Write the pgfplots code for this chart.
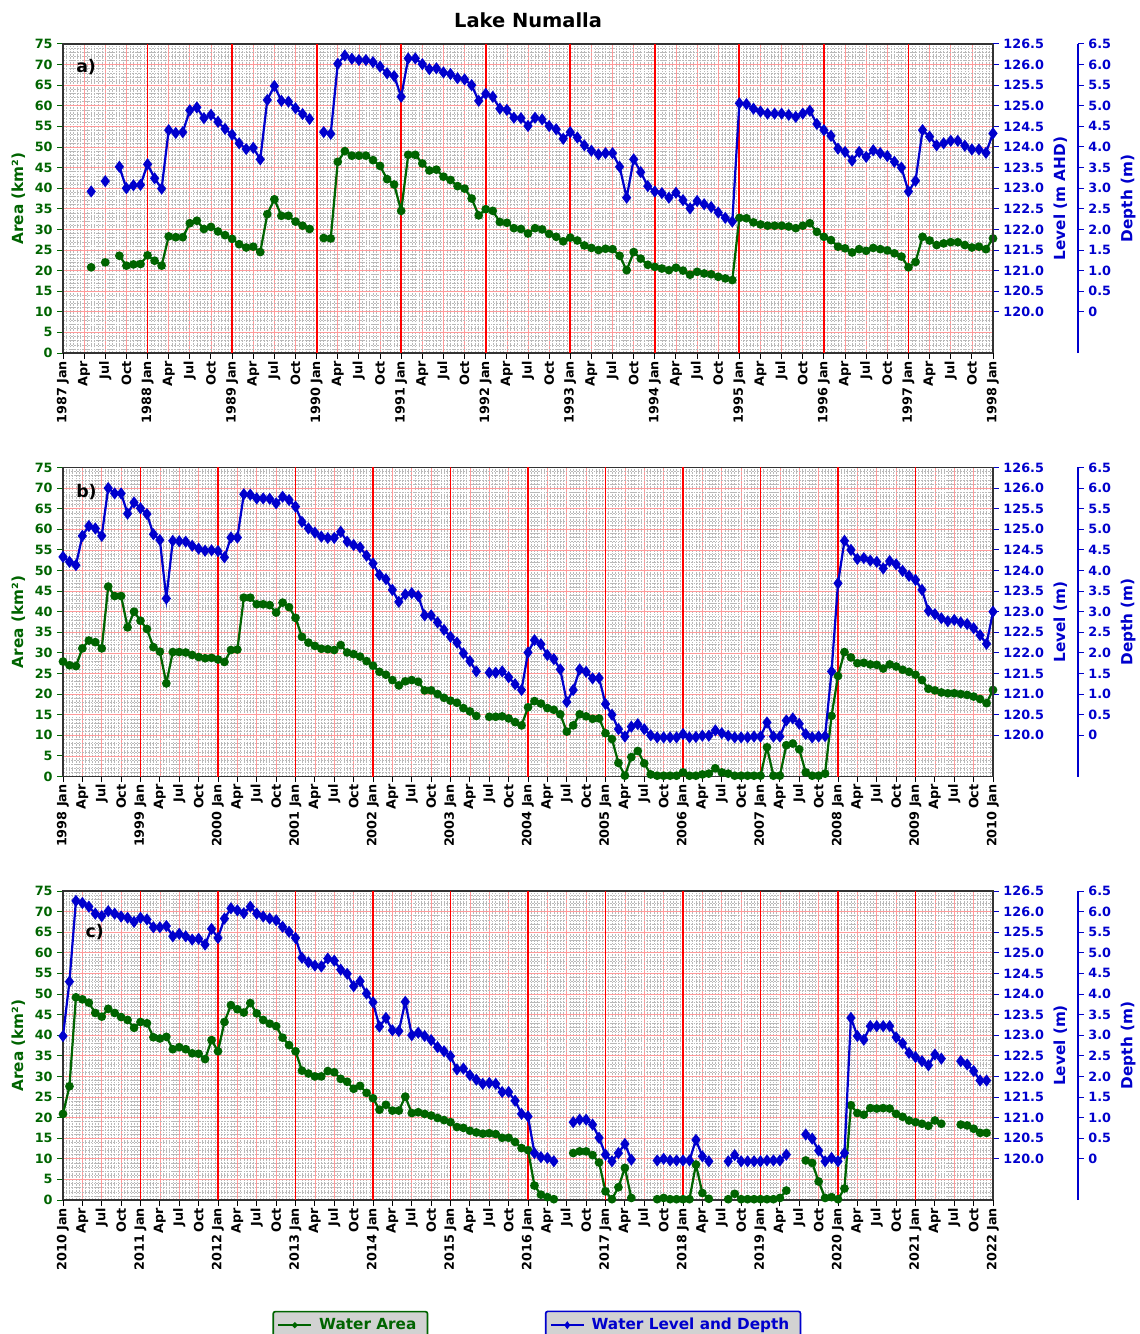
\documentclass[border=0pt]{standalone}
\usepackage{fontspec}
\setmainfont{DejaVu Sans}
\usepackage{pgfplots}
\usepackage{pgfplotstable}
\pgfplotsset{compat=1.18}
\definecolor{dgreen}{HTML}{006400}
\definecolor{mblue}{HTML}{0000CD}
\definecolor{lred}{HTML}{FF9A9A}
\newcommand\tf{\bfseries\fontsize{9.2}{11}\selectfont}
\newcommand\lf{\bfseries\fontsize{11}{13}\selectfont}

\pgfplotstableread{
m area level
4 20.8 122.92
5 nan nan
6 22.0 123.17
7 nan nan
8 23.6 123.52
9 21.2 123.00
10 21.5 123.07
11 21.6 123.08
12 23.7 123.58
13 22.4 123.24
14 21.2 122.99
15 28.3 124.41
16 28.1 124.34
17 28.1 124.36
18 31.5 124.89
19 32.1 124.96
20 30.1 124.70
21 30.6 124.78
22 29.5 124.61
23 28.6 124.44
24 27.7 124.30
25 26.4 124.09
26 25.6 123.95
27 25.8 123.98
28 24.5 123.70
29 33.7 125.14
30 37.3 125.48
31 33.3 125.12
32 33.3 125.10
33 31.9 124.94
34 30.9 124.80
35 30.1 124.68
36 nan nan
37 27.9 124.36
38 27.8 124.32
39 46.4 126.02
40 49.0 126.22
41 47.9 126.14
42 47.9 126.11
43 47.9 126.11
44 46.8 126.06
45 45.4 125.95
46 42.2 125.79
47 40.9 125.72
48 34.5 125.22
49 48.1 126.15
50 48.1 126.15
51 46.0 126.01
52 44.3 125.89
53 44.5 125.91
54 42.8 125.81
55 42.0 125.77
56 40.5 125.67
57 39.9 125.64
58 37.5 125.50
59 33.4 125.12
60 34.9 125.29
61 34.5 125.22
62 31.8 124.93
63 31.6 124.90
64 30.3 124.71
65 30.1 124.70
66 29.0 124.51
67 30.3 124.71
68 30.0 124.67
69 28.9 124.51
70 28.2 124.43
71 27.1 124.20
72 28.0 124.36
73 27.3 124.23
74 26.1 124.04
75 25.5 123.91
76 25.0 123.82
77 25.3 123.85
78 25.2 123.85
79 23.6 123.52
80 20.1 122.77
81 24.5 123.70
82 22.9 123.39
83 21.4 123.05
84 20.9 122.92
85 20.5 122.88
86 20.1 122.77
87 20.7 122.89
88 20.0 122.71
89 19.0 122.51
90 19.7 122.69
91 19.3 122.61
92 19.1 122.54
93 18.5 122.41
94 18.1 122.28
95 17.7 122.19
96 32.8 125.06
97 32.7 125.04
98 31.7 124.93
99 31.2 124.86
100 30.9 124.81
101 30.9 124.81
102 30.9 124.81
103 30.7 124.78
104 30.3 124.73
105 30.9 124.81
106 31.5 124.88
107 29.4 124.56
108 28.2 124.41
109 27.4 124.27
110 25.8 123.96
111 25.4 123.88
112 24.4 123.67
113 25.2 123.88
114 24.8 123.76
115 25.5 123.92
116 25.2 123.85
117 24.9 123.78
118 24.2 123.64
119 23.4 123.50
120 20.8 122.92
121 22.1 123.18
122 28.2 124.41
123 27.3 124.25
124 26.2 124.04
125 26.6 124.09
126 26.9 124.15
127 26.9 124.15
128 26.2 124.03
129 25.6 123.94
130 25.8 123.94
131 25.2 123.86
132 27.8 124.33
}\ta

\pgfplotstableread{
m area level
0 27.9 124.33
1 27.0 124.21
2 26.8 124.13
3 31.1 124.84
4 33.0 125.08
5 32.6 125.02
6 31.1 124.84
7 46.1 126.00
8 43.8 125.87
9 43.8 125.87
10 36.2 125.38
11 40.0 125.65
12 37.8 125.51
13 35.8 125.37
14 31.4 124.88
15 30.3 124.74
16 22.6 123.32
17 30.2 124.72
18 30.2 124.71
19 30.1 124.70
20 29.5 124.60
21 29.0 124.53
22 28.7 124.48
23 28.8 124.49
24 28.4 124.47
25 27.8 124.32
26 30.7 124.80
27 30.8 124.80
28 43.4 125.85
29 43.4 125.84
30 41.8 125.75
31 41.8 125.75
32 41.6 125.74
33 39.8 125.63
34 42.2 125.79
35 41.1 125.71
36 38.5 125.55
37 33.9 125.18
38 32.5 125.02
39 31.7 124.92
40 31.0 124.82
41 30.9 124.79
42 30.7 124.79
43 31.9 124.94
44 30.1 124.70
45 29.7 124.62
46 29.1 124.56
47 28.0 124.36
48 26.9 124.17
49 25.4 123.89
50 24.7 123.79
51 23.4 123.53
52 22.1 123.24
53 23.1 123.42
54 23.4 123.45
55 23.0 123.38
56 20.9 122.91
57 20.9 122.91
58 20.0 122.74
59 19.1 122.56
60 18.4 122.39
61 17.9 122.25
62 16.6 121.99
63 15.8 121.80
64 14.7 121.55
65 nan nan
66 14.5 121.52
67 14.5 121.52
68 14.6 121.55
69 14.1 121.41
70 13.2 121.24
71 12.4 121.10
72 16.8 122.01
73 18.3 122.31
74 17.7 122.21
75 16.6 121.95
76 16.2 121.85
77 15.1 121.60
78 10.9 120.81
79 12.4 121.10
80 15.1 121.60
81 14.6 121.54
82 14.0 121.38
83 14.1 121.39
84 10.5 120.76
85 9.1 120.50
86 3.3 120.15
87 0.2 119.97
88 4.7 120.21
89 6.2 120.27
90 3.2 120.15
91 0.5 120.00
92 0.2 119.95
93 0.2 119.95
94 0.2 119.95
95 0.2 119.95
96 1.0 120.03
97 0.2 119.95
98 0.2 119.96
99 0.5 119.99
100 0.7 119.99
101 2.0 120.12
102 1.0 120.05
103 0.7 119.99
104 0.2 119.95
105 0.2 119.95
106 0.2 119.95
107 0.2 119.97
108 0.2 119.97
109 7.1 120.31
110 0.2 119.97
111 0.2 119.97
112 7.6 120.36
113 8.0 120.41
114 6.6 120.28
115 1.0 120.03
116 0.2 119.95
117 0.2 119.97
118 0.7 119.98
119 14.7 121.55
120 24.4 123.69
121 30.2 124.72
122 28.9 124.50
123 27.5 124.28
124 27.6 124.30
125 27.2 124.24
126 27.1 124.21
127 26.2 124.05
128 27.2 124.23
129 26.7 124.15
130 25.9 123.99
131 25.4 123.87
132 24.7 123.77
133 23.4 123.53
134 21.3 123.02
135 20.9 122.94
136 20.4 122.84
137 20.2 122.77
138 20.2 122.80
139 20.0 122.74
140 19.8 122.70
141 19.4 122.60
142 18.8 122.43
143 17.8 122.22
144 21.0 123.00
}\tb

\pgfplotstableread{
m area level
0 20.9 122.98
1 27.6 124.30
2 49.2 126.26
3 48.7 126.21
4 47.9 126.12
5 45.4 125.95
6 44.5 125.89
7 46.4 126.01
8 45.4 125.95
9 44.4 125.88
10 43.7 125.85
11 41.8 125.75
12 43.2 125.85
13 42.9 125.81
14 39.5 125.62
15 39.2 125.62
16 39.6 125.65
17 36.6 125.40
18 37.1 125.46
19 36.6 125.40
20 35.6 125.32
21 35.5 125.34
22 34.2 125.20
23 38.8 125.58
24 36.1 125.36
25 43.2 125.83
26 47.3 126.08
27 46.3 126.03
28 45.5 125.96
29 47.8 126.12
30 45.3 125.95
31 43.7 125.88
32 42.8 125.83
33 42.2 125.79
34 39.4 125.63
35 37.6 125.51
36 36.1 125.36
37 31.4 124.88
38 30.7 124.77
39 30.0 124.69
40 30.0 124.67
41 31.3 124.86
42 31.0 124.81
43 29.4 124.59
44 28.7 124.49
45 27.0 124.19
46 27.7 124.31
47 26.0 124.01
48 24.7 123.80
49 21.9 123.21
50 23.1 123.42
51 21.7 123.12
52 21.7 123.10
53 25.1 123.81
54 21.1 123.00
55 21.3 123.06
56 20.9 122.98
57 20.5 122.88
58 19.9 122.71
59 19.4 122.61
60 18.9 122.49
61 17.7 122.17
62 17.5 122.19
63 16.8 122.03
64 16.4 121.92
65 16.1 121.82
66 16.2 121.84
67 16.0 121.82
68 15.1 121.62
69 15.1 121.62
70 14.1 121.41
71 12.6 121.09
72 12.1 121.03
73 3.5 120.14
74 1.3 120.04
75 0.7 120.02
76 0.2 119.94
77 nan nan
78 nan nan
79 11.4 120.89
80 11.8 120.95
81 11.8 120.95
82 10.9 120.83
83 9.1 120.51
84 2.1 120.10
85 0.2 119.94
86 3.1 120.14
87 7.8 120.36
88 0.5 119.98
89 nan nan
90 nan nan
91 nan nan
92 0.2 119.96
93 0.5 120.00
94 0.2 119.96
95 0.2 119.96
96 0.2 119.96
97 0.2 119.96
98 8.6 120.46
99 1.7 120.06
100 0.3 119.94
101 nan nan
102 nan nan
103 0.2 119.94
104 1.5 120.09
105 0.2 119.94
106 0.2 119.94
107 0.2 119.94
108 0.2 119.94
109 0.2 119.96
110 0.2 119.96
111 0.5 119.96
112 2.3 120.10
113 nan nan
114 nan nan
115 9.6 120.59
116 9.0 120.49
117 4.5 120.20
118 0.5 119.94
119 0.7 120.02
120 0.2 119.94
121 2.8 120.14
122 23.0 123.42
123 21.1 122.98
124 20.7 122.89
125 22.3 123.22
126 22.2 123.22
127 22.3 123.22
128 22.2 123.22
129 20.9 122.95
130 20.2 122.80
131 19.3 122.57
132 18.9 122.47
133 18.5 122.37
134 18.0 122.27
135 19.3 122.53
136 18.5 122.43
137 nan nan
138 nan nan
139 18.3 122.37
140 18.1 122.29
141 17.3 122.13
142 16.3 121.90
143 16.3 121.90
}\tc

\pgfplotsset{
  base/.style={scale only axis, width=669.6pt, height=222.5pt, anchor=south west,
    unbounded coords=jump, /pgf/number format/assume math mode=true,
    tick align=outside, major tick length=4pt, minor tick length=0pt,
    ticklabel style={font=\tf}, label style={font=\lf}},
  areaax/.style={base,
    ymin=0, ymax=75, ytick={0,5,...,75}, minor y tick num=4,
    xmin=0, xmax=#1, xtick={3,15,...,#1,6,18,...,#1,9,21,...,#1},
    extra x ticks={0,12,...,#1}, extra x tick style={grid=none},
    minor xtick={0.5,3.5,...,#1,1,4,...,#1,1.5,4.5,...,#1,2,5,...,#1,2.5,5.5,...,#1},
    grid=both,
    major grid style={draw=lred, line width=0.5pt},
    minor grid style={draw=gray!55, line width=0.35pt, dash pattern=on 1.2pt off 0.8pt},
    xtick pos=bottom, ytick pos=left,
    axis line style={black!80, line width=0.8pt},
    xticklabel style={rotate=90, anchor=east, inner sep=1.5pt},
    yticklabel style={text=dgreen},
    y tick style={dgreen, line width=0.7pt}, x tick style={black, line width=0.7pt},
    ylabel={Area (km²)}, ylabel style={text=dgreen},
  },
  levelax/.style={base,
    axis y line*=right, axis x line=none, y axis line style={-, black!80, line width=0.8pt},
    xmin=0, xmax=#1, xtick=\empty, ymin=119, ymax=126.5, ytick={120,120.5,...,126.5},
    yticklabel style={text=mblue, /pgf/number format/.cd, fixed, fixed zerofill, precision=1},
    y tick style={mblue, line width=0.7pt}, ylabel style={text=mblue},
  },
  depthax/.style={base,
    axis y line*=right, axis x line=none, y axis line style={-, mblue, line width=0.8pt},
    xmin=0, xmax=1, xtick=\empty, ymin=-1, ymax=6.5, ytick={0,0.5,...,6.5},
    yticklabels={0,0.5,1.0,1.5,2.0,2.5,3.0,3.5,4.0,4.5,5.0,5.5,6.0,6.5},
    yticklabel style={text=mblue},
    y tick style={mblue, line width=0.7pt}, ylabel={Depth (m)}, ylabel style={text=mblue},
  },
  gser/.style={dgreen, line width=1.6pt, mark=*, mark size=2.3pt, mark options={solid}},
  bser/.style={mblue, line width=1.6pt, mark=diamond*, mark size=3.1pt, mark options={solid}},
  janline/.style={forget plot, red, line width=1.3pt, ycomb, mark=none},
  legimg/.style={legend image code/.code={%
      \draw[mark repeat=2, mark phase=2, ##1] plot coordinates {(0pt,0pt) (11.9pt,0pt) (23.8pt,0pt)};}},
}
\tikzset{plab/.style={anchor=west, font=\bfseries\fontsize{12.5}{15}\selectfont, text=black}}

\begin{document}
\begin{tikzpicture}
\path[use as bounding box] (0,0) rectangle (820.8pt,-960.48pt);
\node[font=\bfseries\fontsize{14}{17}\selectfont] at (380.2pt,-14.4pt) {Lake Numalla};

% ---------- panel a ----------
\begin{axis}[areaax=132, at={(45.36pt,-254.16pt)},
  xticklabels={Apr,Apr,Apr,Apr,Apr,Apr,Apr,Apr,Apr,Apr,Apr,Jul,Jul,Jul,Jul,Jul,Jul,Jul,Jul,Jul,Jul,Jul,Oct,Oct,Oct,Oct,Oct,Oct,Oct,Oct,Oct,Oct,Oct},
  extra x tick labels={1987 Jan,1988 Jan,1989 Jan,1990 Jan,1991 Jan,1992 Jan,1993 Jan,1994 Jan,1995 Jan,1996 Jan,1997 Jan,1998 Jan}]
\addplot[janline] coordinates {(12,75) (24,75) (36,75) (48,75) (60,75) (72,75) (84,75) (96,75) (108,75) (120,75)};
\addplot[gser] table[x=m, y=area] {\ta};
\node[plab] at (rel axis cs:0.009,0.924) {a)};
\end{axis}
\begin{axis}[levelax=132, at={(45.36pt,-254.16pt)}, ylabel={Level (m AHD)}]
\addplot[bser] table[x=m, y=level] {\ta};
\end{axis}
\begin{axis}[depthax, at={(106.56pt,-254.16pt)}]
\end{axis}

% ---------- panel b ----------
\begin{axis}[areaax=144, at={(45.36pt,-559.08pt)},
  xticklabels={Apr,Apr,Apr,Apr,Apr,Apr,Apr,Apr,Apr,Apr,Apr,Apr,Jul,Jul,Jul,Jul,Jul,Jul,Jul,Jul,Jul,Jul,Jul,Jul,Oct,Oct,Oct,Oct,Oct,Oct,Oct,Oct,Oct,Oct,Oct,Oct},
  extra x tick labels={1998 Jan,1999 Jan,2000 Jan,2001 Jan,2002 Jan,2003 Jan,2004 Jan,2005 Jan,2006 Jan,2007 Jan,2008 Jan,2009 Jan,2010 Jan}]
\addplot[janline] coordinates {(12,75) (24,75) (36,75) (48,75) (60,75) (72,75) (84,75) (96,75) (108,75) (120,75) (132,75)};
\addplot[gser] table[x=m, y=area] {\tb};
\node[plab] at (rel axis cs:0.009,0.919) {b)};
\end{axis}
\begin{axis}[levelax=144, at={(45.36pt,-559.08pt)}, ylabel={Level (m)}]
\addplot[bser] table[x=m, y=level] {\tb};
\end{axis}
\begin{axis}[depthax, at={(106.56pt,-559.08pt)}]
\end{axis}

% ---------- panel c ----------
\begin{axis}[areaax=144, at={(45.36pt,-864pt)},
  xticklabels={Apr,Apr,Apr,Apr,Apr,Apr,Apr,Apr,Apr,Apr,Apr,Apr,Jul,Jul,Jul,Jul,Jul,Jul,Jul,Jul,Jul,Jul,Jul,Jul,Oct,Oct,Oct,Oct,Oct,Oct,Oct,Oct,Oct,Oct,Oct,Oct},
  extra x tick labels={2010 Jan,2011 Jan,2012 Jan,2013 Jan,2014 Jan,2015 Jan,2016 Jan,2017 Jan,2018 Jan,2019 Jan,2020 Jan,2021 Jan,2022 Jan},
  legimg,
  legend style={at={(axis description cs:0.309,-0.405)}, anchor=center, fill=gray!35, draw=dgreen,
    line width=1.2pt, rounded corners=1.5pt, text=dgreen, font=\lf, inner xsep=3pt, inner ysep=2.5pt,
    nodes={inner xsep=5pt, inner ysep=2.5pt}},
  legend image post style={mark size=1.4pt, line width=1.3pt}]
\addplot[janline] coordinates {(12,75) (24,75) (36,75) (48,75) (60,75) (72,75) (84,75) (96,75) (108,75) (120,75) (132,75)};
\addplot[gser] table[x=m, y=area] {\tc};
\addlegendentry{Water Area}
\node[plab] at (rel axis cs:0.019,0.868) {c)};
\end{axis}
\begin{axis}[levelax=144, at={(45.36pt,-864pt)}, ylabel={Level (m)},
  legimg,
  legend style={at={(axis description cs:0.656,-0.405)}, anchor=center, fill=gray!35, draw=mblue,
    line width=1.2pt, rounded corners=1.5pt, text=mblue, font=\lf, inner xsep=3pt, inner ysep=2.5pt,
    nodes={inner xsep=5pt, inner ysep=2.5pt}},
  legend image post style={mark size=1.8pt, line width=1.3pt}]
\addplot[bser] table[x=m, y=level] {\tc};
\addlegendentry{Water Level and Depth}
\end{axis}
\begin{axis}[depthax, at={(106.56pt,-864pt)}]
\end{axis}
\end{tikzpicture}
\end{document}
